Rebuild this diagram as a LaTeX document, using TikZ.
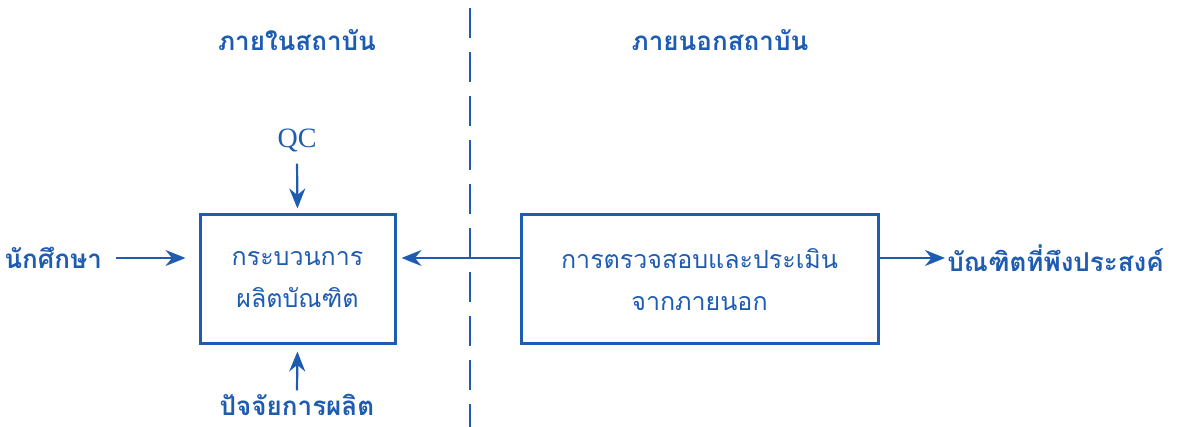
\documentclass[tikz,border=0pt]{standalone}
\usepackage{fontspec}
\setmainfont{Liberation Serif}
\newfontfamily\thaifont[Script=Thai]{Loma}
\usepackage{tikz}
\usetikzlibrary{arrows.meta}
\usetikzlibrary{positioning}

\definecolor{qablue}{RGB}{30,92,178}

\tikzset{
  procbox/.style={draw=qablue,line width=1.5pt,align=center,text=qablue,
    font=\thaifont\fontsize{12.5}{21}\selectfont},
  sidelbl/.style={text=qablue,inner sep=1pt,
    font=\thaifont\bfseries\fontsize{13}{15}\selectfont},
  flow/.style={->,draw=qablue,line width=1.1pt}
}

\begin{document}
\begin{tikzpicture}[x=0.5pt,y=-0.5pt,>={Stealth[length=10pt,width=8pt]}]
  \useasboundingbox (0,0) rectangle (1180,427);

  % divider
  \coordinate (divtop) at (470,8);
  \coordinate (divbot) at (470,427);
  \draw[draw=qablue,line width=1.3pt,dash pattern=on 15pt off 7pt] (divtop) -- (divbot);

  % headers
  \node[sidelbl] (inside) at (297,40) {ภายในสถาบัน};
  \node[sidelbl] (outside) at (720,40) {ภายนอกสถาบัน};

  % boxes
  \node[procbox,minimum width=97.5pt,minimum height=64.5pt]
    (proc) at (297.5,279.5) {กระบวนการ\\ผลิตบัณฑิต};
  \node[procbox,minimum width=178.5pt,minimum height=64.5pt]
    (eval) at (699.5,279.5) {การตรวจสอบและประเมิน\\จากภายนอก};

  % labels
  \node[sidelbl,anchor=west] (student) at (2,258) {นักศึกษา};
  \node[text=qablue,font=\fontsize{14}{16}\selectfont] (qc) at (297,141) {QC};
  \node[sidelbl,anchor=base] (factor) at (297,416) {ปัจจัยการผลิต};
  \node[sidelbl,anchor=west] (grad) at (945,258) {บัณฑิตที่พึงประสงค์};

  % arrows
  \draw[flow,shorten <=6pt,shorten >=6.5pt] (student.east) -- (student.east -| proc.west);
  \draw[flow,shorten <=2pt,shorten >=2.5pt] (qc.south) -- (proc.north);
  \draw[flow,shorten <=1pt,shorten >=3pt] (factor.north) -- (proc.south);
  \draw[flow,shorten >=2.5pt] (eval.west |- student.east) -- (proc.east |- student.east);
  \draw[flow] (eval.east |- grad.west) -- (grad.west);
\end{tikzpicture}
\end{document}
